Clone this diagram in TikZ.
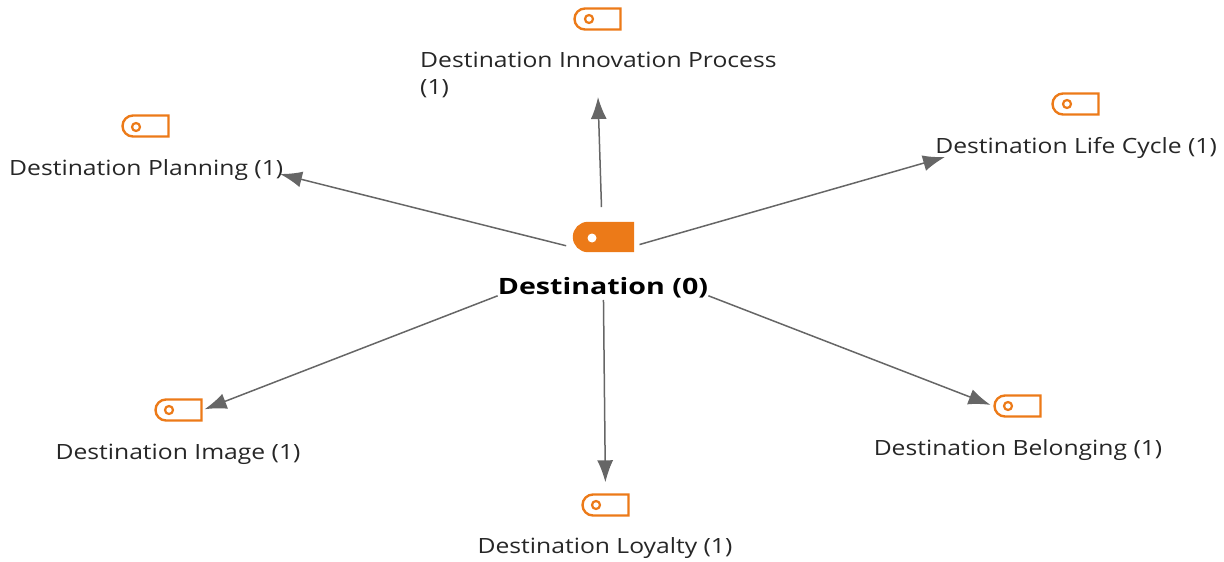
\documentclass[tikz,border=0pt]{standalone}
\usepackage{fontspec}
\setmainfont[FakeStretch=1.175,BoldFeatures={FakeStretch=1.27}]{Open Sans}
\usetikzlibrary{shapes.misc}
\usetikzlibrary{arrows.meta}
\definecolor{tagorange}{HTML}{EC7A18}
\definecolor{linkgrey}{HTML}{666666}
\tikzset{
	tagbox/.style={rounded rectangle,rounded rectangle right arc=none,minimum width=46pt,minimum height=21pt,inner sep=0pt,draw=tagorange,line width=2.4pt},
	taghole/.style={circle,minimum size=8pt,inner sep=0pt,draw=tagorange,line width=2.2pt},
	txt/.style={font=\fontsize{21}{27}\selectfont,text=black!85,inner sep=0pt},
	link/.style={draw=linkgrey,line width=1.5pt,-{Latex[length=22pt,width=16pt]}}
}
\begin{document}
\begin{tikzpicture}[x=1pt,y=-1pt]
\useasboundingbox (0,0) rectangle (1224,562);
\coordinate (hubcentre) at (603,255);
\draw (603.5,237) node[tagbox,fill=tagorange,minimum width=59pt,minimum height=28pt] (hub) {};
\draw (592,238) node[circle,fill=white,minimum size=9pt,inner sep=0pt] (hubhole) {};
\draw (603,288) node[txt,text=black,font=\fontsize{22.5}{27}\selectfont\bfseries] (hubtext) {Destination (0)};
\draw (597.5,19) node[tagbox] (innovation) {};				%top
\draw (589,19) node[taghole] (innovationhole) {};
\draw (420,74.5) node[txt,anchor=west,align=left] (innovationtext) {Destination Innovation Process\\(1)};
\draw (1075.5,104) node[tagbox] (cycle) {};					%right
\draw (1067,104) node[taghole] (cyclehole) {};
\draw (1217,148) node[txt,anchor=east] (cycletext) {Destination Life Cycle (1)};
\draw (145.5,126) node[tagbox] (planning) {};				%left
\draw (136,127) node[taghole] (planninghole) {};
\draw (9,170) node[txt,anchor=west] (planningtext) {Destination Planning (1)};
\draw (178.5,410) node[tagbox] (image) {};					%lower left
\draw (169,410) node[taghole] (imagehole) {};
\draw (178,454) node[txt] (imagetext) {Destination Image (1)};
\draw (1017.5,406) node[tagbox] (belonging) {};				%lower right
\draw (1008,406) node[taghole] (belonginghole) {};
\draw (1018,450) node[txt] (belongingtext) {Destination Belonging (1)};
\draw (605.5,505) node[tagbox] (loyalty) {};				%bottom
\draw (596,505) node[taghole] (loyaltyhole) {};
\draw (605,548) node[txt] (loyaltytext) {Destination Loyalty (1)};
\coordinate (innovationtip) at (598,97);
\coordinate (cycletip) at (945,157);
\coordinate (planningtip) at (280,174);
\draw[link,shorten <=48pt] (hubcentre) -- (innovationtip);
\draw[link,shorten <=38pt] (hubcentre) -- (cycletip);
\draw[link,shorten <=38pt] (hubcentre) -- (planningtip);
\draw[link,shorten <=113pt,shorten >=2pt] (hubcentre) -- (image.east);
\draw[link,shorten <=113pt,shorten >=3pt] (hubcentre) -- (belonging.west);
\draw[link,shorten <=45pt,shorten >=11pt] (hubcentre) -- (loyalty.north);
\end{tikzpicture}
\end{document}
